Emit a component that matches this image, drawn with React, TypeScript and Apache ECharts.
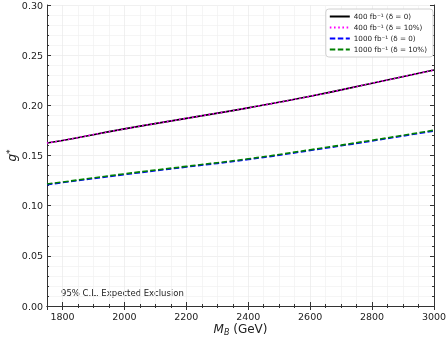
import React, { useEffect, useRef } from "react";
import * as echarts from "echarts";

const massGeV = [1750, 1800, 2000, 2200, 2400, 2600, 2800, 3000];
const g400d0 = [0.1625, 0.165, 0.1765, 0.187, 0.1975, 0.209, 0.222, 0.2352];
const g400d10 = [0.1625, 0.165, 0.1765, 0.187, 0.1975, 0.209, 0.222, 0.2352];
const g1000d0 = [0.121, 0.123, 0.131, 0.1385, 0.146, 0.155, 0.1645, 0.1745];
const g1000d10 = [0.1216, 0.1236, 0.1317, 0.1392, 0.1467, 0.1557, 0.1652, 0.1752];
const seriesNames = [
  "400 fb\u207B\u00B9 (\u03B4 = 0)",
  "400 fb\u207B\u00B9 (\u03B4 = 10%)",
  "1000 fb\u207B\u00B9 (\u03B4 = 0)",
  "1000 fb\u207B\u00B9 (\u03B4 = 10%)",
];

const FONT = "DejaVu Sans";

export default function App() {
  const ref = useRef<HTMLDivElement>(null);
  useEffect(() => {
    const chart = echarts.init(ref.current!, null, { renderer: "svg" });
    const pairs = (ys: number[]) => massGeV.map((x, i) => [x, ys[i]]);
    const axisCommon = {
      axisLine: { show: true, lineStyle: { color: "#333", width: 1 } },
      axisTick: { show: true, inside: true, length: 4, lineStyle: { color: "#333" } },
    };
    chart.setOption({
      animation: false,
      textStyle: { fontFamily: FONT },
      grid: { left: 47, right: 12, top: 5, bottom: 34, containLabel: false, outerBoundsMode: "none" },
      legend: {
        orient: "vertical",
        right: 13,
        top: 9,
        itemWidth: 20,
        itemHeight: 8,
        itemGap: 4,
        padding: [4, 6, 4, 3],
        backgroundColor: "#fff",
        borderColor: "#d0d0d0",
        borderWidth: 1,
        borderRadius: 3,
        itemStyle: { opacity: 0 },
        textStyle: { fontFamily: FONT, fontSize: 7.2, color: "#222", padding: [0, 0, 0, -1] },
        data: seriesNames,
      },
      xAxis: [
        {
          type: "value",
          min: 1750,
          max: 3000,
          splitNumber: 6,
          position: "bottom",
          name: "{i|M}{s|B} (GeV)",
          nameLocation: "middle",
          nameGap: 16,
          nameMoveOverlap: false,
          nameTextStyle: {
            fontFamily: FONT,
            fontSize: 12,
            color: "#222",
            rich: {
              i: { fontFamily: FONT, fontSize: 12, fontStyle: "italic", color: "#222" },
              s: { fontFamily: FONT, fontSize: 8, fontStyle: "italic", color: "#222", verticalAlign: "bottom", padding: [6, 0, 0, 0] },
            },
          },
          ...axisCommon,
          minorTick: { show: true, splitNumber: 4, length: 2, lineStyle: { color: "#333" } },
          axisLabel: { fontFamily: FONT, fontSize: 9.5, color: "#222", margin: 5, formatter: (v: number) => String(v) },
          splitLine: { show: true, lineStyle: { color: "#ececec", width: 0.8 } },
          minorSplitLine: { show: true, lineStyle: { color: "#f3f3f3", width: 0.8 } },
        },
        {
          type: "value",
          min: 1750,
          max: 3000,
          splitNumber: 6,
          position: "top",
          ...axisCommon,
          minorTick: { show: true, splitNumber: 4, length: 2, lineStyle: { color: "#333" } },
          axisLabel: { show: false },
          splitLine: { show: false },
        },
      ],
      yAxis: [
        {
          type: "value",
          min: 0,
          max: 0.3,
          interval: 0.05,
          position: "left",
          name: "{i|g}{s|*}",
          nameLocation: "middle",
          nameGap: 28,
          nameMoveOverlap: false,
          nameTextStyle: {
            fontFamily: FONT,
            fontSize: 12,
            color: "#222",
            rich: {
              i: { fontFamily: FONT, fontSize: 12, fontStyle: "italic", color: "#222" },
              s: { fontFamily: FONT, fontSize: 9, color: "#222", padding: [0, 0, 5, 0] },
            },
          },
          ...axisCommon,
          minorTick: { show: true, splitNumber: 5, length: 2, lineStyle: { color: "#333" } },
          axisLabel: { fontFamily: FONT, fontSize: 9.5, color: "#222", margin: 4, formatter: (v: number) => v.toFixed(2) },
          splitLine: { show: true, lineStyle: { color: "#ececec", width: 0.8 } },
          minorSplitLine: { show: true, lineStyle: { color: "#f3f3f3", width: 0.8 } },
        },
        {
          type: "value",
          min: 0,
          max: 0.3,
          interval: 0.05,
          position: "right",
          ...axisCommon,
          minorTick: { show: true, splitNumber: 5, length: 2, lineStyle: { color: "#333" } },
          axisLabel: { show: false },
          splitLine: { show: false },
        },
      ],
      graphic: [
        {
          type: "text",
          left: 61,
          top: 288,
          style: { text: "95% C.L. Expected Exclusion", fontFamily: FONT, fontSize: 8.5, fill: "#222" },
        },
      ],
      series: [
        {
          name: seriesNames[0],
          type: "line",
          data: pairs(g400d0),
          symbol: "none",
          smooth: true,
          lineStyle: { color: "#000", width: 1.6, type: "solid" },
          itemStyle: { color: "#000" },
          z: 2,
        },
        {
          name: seriesNames[1],
          type: "line",
          data: pairs(g400d10),
          symbol: "none",
          smooth: true,
          lineStyle: { color: "#ff00ff", width: 1.6, type: [1.6, 2.6] },
          itemStyle: { color: "#ff00ff" },
          z: 3,
        },
        {
          name: seriesNames[2],
          type: "line",
          data: pairs(g1000d0),
          symbol: "none",
          smooth: true,
          lineStyle: { color: "#0000ff", width: 1.6, type: [5.5, 2.5] },
          itemStyle: { color: "#0000ff" },
          z: 2,
        },
        {
          name: seriesNames[3],
          type: "line",
          data: pairs(g1000d10),
          symbol: "none",
          smooth: true,
          lineStyle: { color: "#008000", width: 1.6, type: [5.5, 2.5] },
          itemStyle: { color: "#008000" },
          z: 3,
        },
      ],
    });
    return () => chart.dispose();
  }, []);
  return <div ref={ref} style={{ position: "fixed", left: 0, top: 0, width: 446, height: 340 }} />;
}
